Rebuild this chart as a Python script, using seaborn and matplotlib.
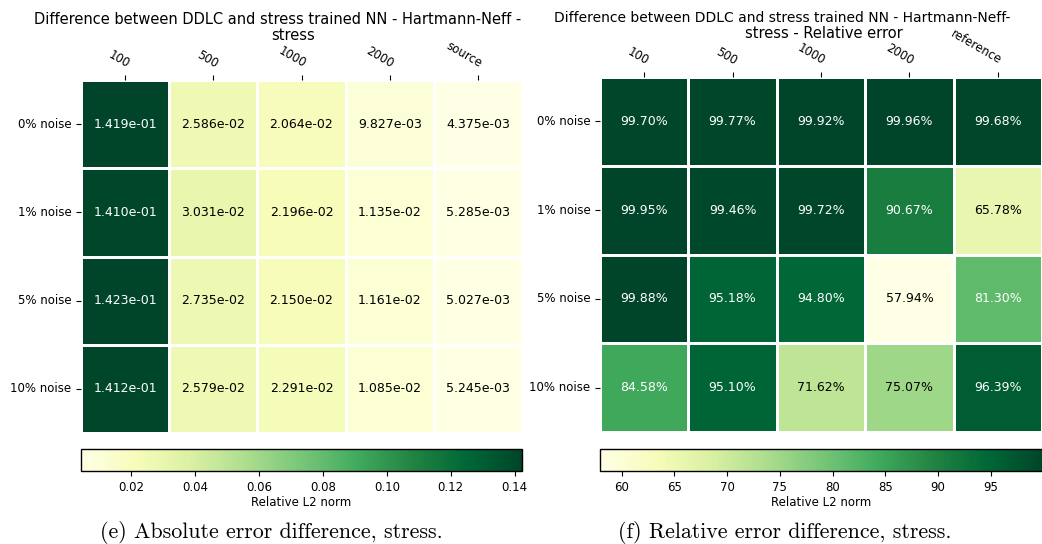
import numpy as np
import matplotlib
matplotlib.use("Agg")
import matplotlib.pyplot as plt
import seaborn as sns

plt.rcParams["font.family"] = ["DejaVu Sans"]

# data
row_labels = ["0% noise", "1% noise", "5% noise", "10% noise"]
cols_abs = ["100", "500", "1000", "2000", "source"]
cols_rel = ["100", "500", "1000", "2000", "reference"]

abs_diff = [
    [1.419e-01, 2.586e-02, 2.064e-02, 9.827e-03, 4.375e-03],
    [1.410e-01, 3.031e-02, 2.196e-02, 1.135e-02, 5.285e-03],
    [1.423e-01, 2.735e-02, 2.150e-02, 1.161e-02, 5.027e-03],
    [1.412e-01, 2.579e-02, 2.291e-02, 1.085e-02, 5.245e-03],
]
rel_diff = [
    [99.70, 99.77, 99.92, 99.96, 99.68],
    [99.95, 99.46, 99.72, 90.67, 65.78],
    [99.88, 95.18, 94.80, 57.94, 81.30],
    [84.58, 95.10, 71.62, 75.07, 96.39],
]

title_abs = ["Difference between DDLC and stress trained NN - Hartmann-Neff -", "stress"]
title_rel = ["Difference between DDLC and stress trained NN - Hartmann-Neff-", "stress - Relative error"]
cbar_label = "Relative L2 norm"
caption_abs = "(e) Absolute error difference, stress."
caption_rel = "(f) Relative error difference, stress."

W, H = 1042, 544
fig = plt.figure(figsize=(W / 100, H / 100), dpi=100)


def px(x, y, w, h):
    # pixel box (top-left origin) -> figure fraction
    return [x / W, 1 - (y + h) / H, w / W, h / H]


def panel(ax, cax, values, cols, annot, fmt):
    sns.heatmap(values, ax=ax, cbar_ax=cax, cmap="YlGn",
                annot=annot, fmt=fmt, annot_kws={"size": 9},
                linewidths=2, linecolor="white",
                xticklabels=cols, yticklabels=row_labels,
                cbar_kws={"orientation": "horizontal", "label": cbar_label})
    ax.xaxis.tick_top()
    plt.setp(ax.get_xticklabels(), rotation=-30, ha="right", va="bottom",
             rotation_mode="anchor", fontsize=8.5)
    plt.setp(ax.get_yticklabels(), rotation=0, fontsize=8.5)
    for t in ax.texts:
        if t.get_color() != "w":
            t.set_color("black")
    cb = ax.collections[0].colorbar
    cb.outline.set_linewidth(1)
    cb.outline.set_edgecolor("black")
    cax.tick_params(labelsize=8.5)
    cax.xaxis.label.set_size(8.5)
    cax.xaxis.labelpad = 2


ax1 = fig.add_axes(px(81, 80, 441, 353))
cax1 = fig.add_axes(px(81, 449, 441, 22))
panel(ax1, cax1, np.array(abs_diff), cols_abs, True, ".3e")

ax2 = fig.add_axes(px(600, 77, 442, 355))
cax2 = fig.add_axes(px(600, 449, 443, 22))
rel_text = np.array([[f"{v:.2f}%" for v in row] for row in rel_diff])
panel(ax2, cax2, np.array(rel_diff), cols_rel, rel_text, "")

# wrapped titles, each line placed where it sits in the reference
fig.text(278 / W, 1 - 24 / H, title_abs[0], ha="center", va="baseline", fontsize=10.5)
fig.text(293 / W, 1 - 40 / H, title_abs[1], ha="center", va="baseline", fontsize=10.5)
fig.text(782 / W, 1 - 22 / H, title_rel[0], ha="center", va="baseline", fontsize=10)
fig.text(824 / W, 1 - 38 / H, title_rel[1], ha="center", va="baseline", fontsize=10.5)

fig.text(271 / W, 1 - 538 / H, caption_abs, ha="center", va="baseline",
         family="cmr10", fontsize=15.8)
fig.text(785 / W, 1 - 538 / H, caption_rel, ha="center", va="baseline",
         family="cmr10", fontsize=15.8)

fig.savefig("out.png", dpi=100)
